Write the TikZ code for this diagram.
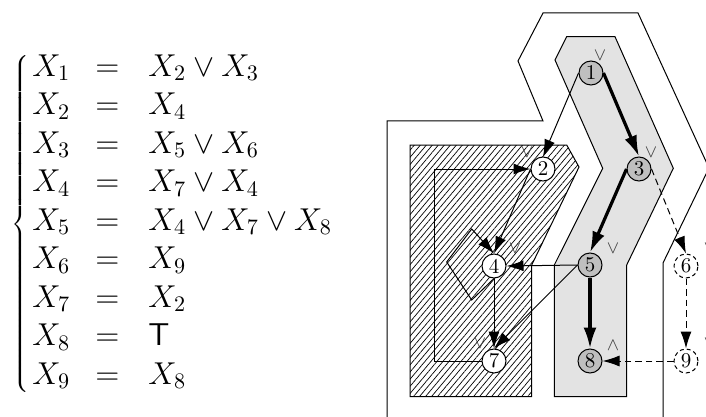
\RequirePackage{fix-cm}
\documentclass[tikz,border=0pt]{standalone}
\usetikzlibrary{arrows.meta,patterns.meta}
\begin{document}
\begin{tikzpicture}[x=0.5pt,y=-0.5pt,
  vnode/.style={circle,draw,line width=0.5pt,minimum size=12pt,inner sep=0pt,font=\fontsize{10.5}{12}\selectfont},
  gnode/.style={vnode,fill=black!25},
  wnode/.style={vnode,fill=white},
  dnode/.style={vnode,fill=white,dash pattern=on 2pt off 1.5pt},
  lab/.style={text=black!75,inner sep=0pt,font=\fontsize{9}{10}\selectfont},
  tedge/.style={line width=0.5pt,-{Latex[length=8.5pt,width=5.5pt]}},
  kedge/.style={line width=1.6pt,-{Latex[length=10.5pt,width=6.5pt]}},
  dedge/.style={line width=0.5pt,dash pattern=on 3.3pt off 2pt,-{Latex[length=8.5pt,width=5.5pt]}},
  region/.style={line width=0.5pt},
  eq/.style={inner sep=0pt,font=\fontsize{15.8}{18}\selectfont}
]
\useasboundingbox (0,0) rectangle (706,417);
\clip (0,0) rectangle (706,417);

% equations
\node[eq,anchor=west] (brace) at (11,224) {$\left\{\vcenter{\hrule height 168pt width 0pt}\right.$};
\node[eq,anchor=base west] (eqL1) at (32,76) {$X_1$};
\node[eq,anchor=base] (eqE1) at (107.5,76) {$=$};
\node[eq,anchor=base west] (eqR1) at (148,76) {$X_2 \vee X_3$};
\node[eq,anchor=base west] (eqL2) at (32,114.5) {$X_2$};
\node[eq,anchor=base] (eqE2) at (107.5,114.5) {$=$};
\node[eq,anchor=base west] (eqR2) at (148,114.5) {$X_4$};
\node[eq,anchor=base west] (eqL3) at (32,153) {$X_3$};
\node[eq,anchor=base] (eqE3) at (107.5,153) {$=$};
\node[eq,anchor=base west] (eqR3) at (148,153) {$X_5 \vee X_6$};
\node[eq,anchor=base west] (eqL4) at (32,191.5) {$X_4$};
\node[eq,anchor=base] (eqE4) at (107.5,191.5) {$=$};
\node[eq,anchor=base west] (eqR4) at (148,191.5) {$X_7 \vee X_4$};
\node[eq,anchor=base west] (eqL5) at (32,230) {$X_5$};
\node[eq,anchor=base] (eqE5) at (107.5,230) {$=$};
\node[eq,anchor=base west] (eqR5) at (148,230) {$X_4 \vee X_7 \vee X_8$};
\node[eq,anchor=base west] (eqL6) at (32,268.5) {$X_6$};
\node[eq,anchor=base] (eqE6) at (107.5,268.5) {$=$};
\node[eq,anchor=base west] (eqR6) at (148,268.5) {$X_9$};
\node[eq,anchor=base west] (eqL7) at (32,307) {$X_7$};
\node[eq,anchor=base] (eqE7) at (107.5,307) {$=$};
\node[eq,anchor=base west] (eqR7) at (148,307) {$X_2$};
\node[eq,anchor=base west] (eqL8) at (32,345.5) {$X_8$};
\node[eq,anchor=base] (eqE8) at (107.5,345.5) {$=$};
\node[eq,anchor=base west] (eqR8) at (148,345.5) {$\mathsf{T}$};
\node[eq,anchor=base west] (eqL9) at (32,384) {$X_9$};
\node[eq,anchor=base] (eqE9) at (107.5,384) {$=$};
\node[eq,anchor=base west] (eqR9) at (148,384) {$X_8$};

% regions
\draw[region] (387,430) -- (387,121) -- (543,121) -- (518,61) -- (543,13) -- (638,13)
  -- (709,168) -- (663,263) -- (663,430);
\draw[region,fill=black!11] (566.7,36.7) -- (615,36.7) -- (673.3,168.3) -- (626.7,265)
  -- (626.7,396.7) -- (554.3,396.7) -- (554.3,265) -- (602.7,168.3) -- (555,60) -- cycle;
\draw[region,pattern={Lines[angle=50,distance=2.3pt,line width=0.35pt]}]
  (410,145) -- (566.7,145) -- (579,167) -- (531.7,265) -- (531.7,396.7) -- (410,396.7) -- cycle;

% nodes
\node[gnode] (n1) at (591,73) {1};
\node[wnode] (n2) at (543,169) {2};
\node[gnode] (n3) at (639,169) {3};
\node[wnode] (n4) at (494,266) {4};
\node[gnode] (n5) at (590,265) {5};
\node[dnode] (n6) at (686,266) {6};
\node[wnode] (n7) at (494,361) {7};
\node[gnode] (n8) at (590,361) {8};
\node[dnode] (n9) at (686,361) {9};

% labels
\node[lab] (l1) at (600,56) {$\vee$};
\node[lab] (l2) at (527,152) {$\vee$};
\node[lab] (l3) at (651,152) {$\vee$};
\node[lab] (l4) at (515,248) {$\vee$};
\node[lab] (l5) at (613,248) {$\vee$};
\node[lab] (l6) at (710,248) {$\vee$};
\node[lab] (l7) at (480,343) {$\vee$};
\node[lab] (l8) at (613,345) {$\wedge$};
\node[lab] (l9) at (710,343) {$\vee$};

% edges
\draw[tedge] (n1.west) -- (n2.north);
\draw[kedge] (n1.east) -- (n3.north);
\draw[tedge] (n2.west) -- (n4.north);
\draw[kedge] (n3.west) -- (n5.north);
\draw[dedge] (n3.east) -- (n6.north);
\draw[tedge] (n4.south) -- (n7.north);
\draw[tedge] (n4.south) -- (471.7,300) -- (446.7,262) -- (471.7,229) -- (n4.north);
\draw[tedge] (n5.west) -- (n4.east);
\draw[tedge] (n5.west) -- (n7.north);
\draw[kedge] (n5.south) -- (n8.north);
\draw[dedge] (n6.south) -- (n9.north);
\draw[tedge] (n7.west) -- (434,361) -- (434,169) -- (n2.west);
\draw[dedge] (n9.west) -- (n8.east);
\end{tikzpicture}
\end{document}
